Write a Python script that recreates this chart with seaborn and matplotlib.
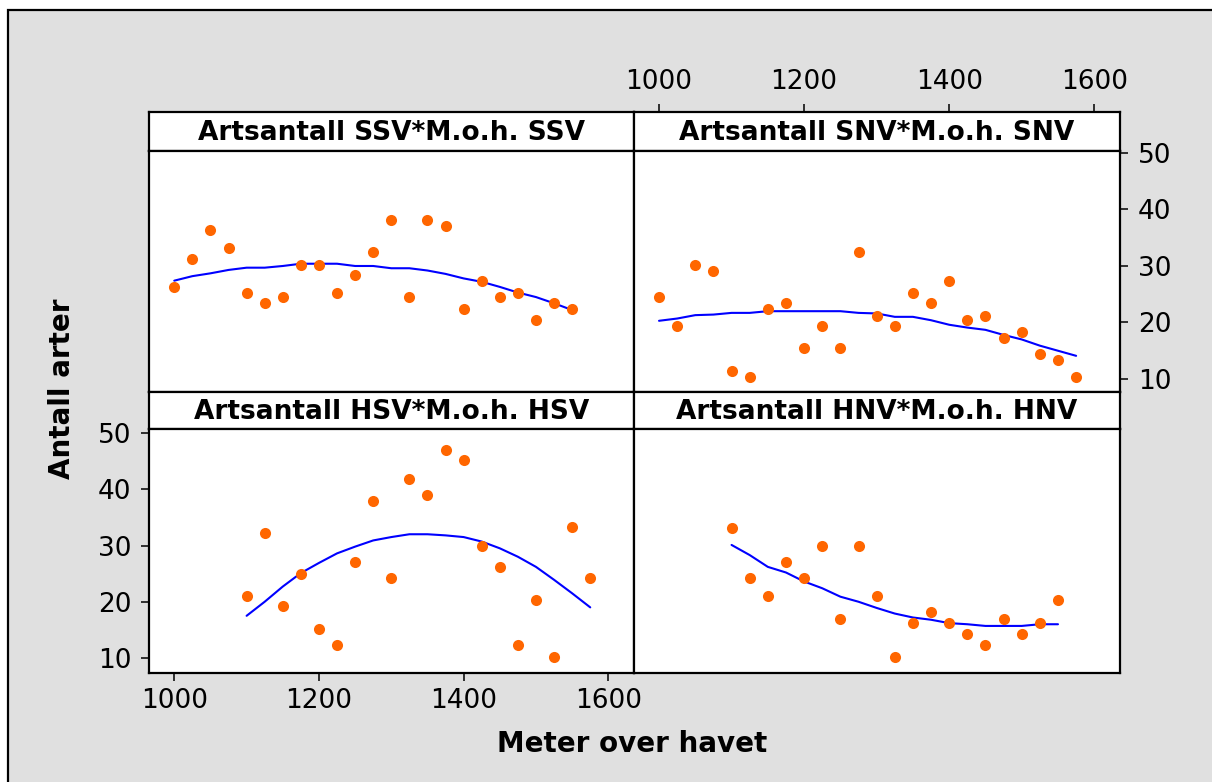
import matplotlib
matplotlib.use("Agg")
import matplotlib.pyplot as plt
import seaborn as sns
import pandas as pd
from matplotlib.patches import Rectangle

sns.set_theme(style="white")
plt.rcParams['font.family'] = ['DejaVu Sans']

# ---------------- data ----------------
titles = ["Artsantall SSV*M.o.h. SSV", "Artsantall SNV*M.o.h. SNV",
          "Artsantall HSV*M.o.h. HSV", "Artsantall HNV*M.o.h. HNV"]

ssv_x = [1000, 1025, 1050, 1075, 1100, 1125, 1150, 1175, 1200, 1225, 1250, 1275,
         1300, 1325, 1350, 1375, 1400, 1425, 1450, 1475, 1500, 1525, 1550]
ssv_y = [26.3, 31.3, 36.3, 33.1, 25.2, 23.4, 24.5, 30.2, 30.2, 25.2, 28.4, 32.4,
         38.1, 24.5, 38.1, 37.0, 22.3, 27.3, 24.5, 25.2, 20.5, 23.4, 22.3]
ssv_fit = [27.4, 28.2, 28.7, 29.3, 29.7, 29.7, 30.0, 30.4, 30.4, 30.4, 30.0, 30.0,
           29.6, 29.6, 29.2, 28.6, 27.8, 27.2, 26.3, 25.3, 24.5, 23.4, 22.2]

snv_x = [1000, 1025, 1050, 1075, 1100, 1125, 1150, 1175, 1200, 1225, 1250, 1275,
         1300, 1325, 1350, 1375, 1400, 1425, 1450, 1475, 1500, 1525, 1550, 1575]
snv_y = [24.5, 19.4, 30.2, 29.1, 11.5, 10.4, 22.3, 23.4, 15.4, 19.4, 15.4, 32.4,
         21.2, 19.4, 25.2, 23.4, 27.3, 20.4, 21.2, 17.3, 18.3, 14.4, 13.3, 10.4]
snv_fit = [20.3, 20.7, 21.3, 21.4, 21.7, 21.7, 22.0, 22.0, 22.0, 22.0, 22.0, 21.7,
           21.6, 21.0, 21.0, 20.4, 19.6, 19.1, 18.7, 17.8, 17.0, 15.9, 15.0, 14.1]

hsv_x = [1100, 1125, 1150, 1175, 1200, 1225, 1250, 1275, 1300, 1325, 1350, 1375,
         1400, 1425, 1450, 1475, 1500, 1525, 1550, 1575]
hsv_y = [21.0, 32.2, 19.2, 25.0, 15.2, 12.3, 27.1, 38.0, 24.3, 41.9, 39.0, 47.0,
         45.2, 30.0, 26.1, 12.3, 20.3, 10.1, 33.3, 24.3]
hsv_fit = [17.5, 20.0, 22.7, 25.1, 26.9, 28.6, 29.8, 30.9, 31.5, 32.0, 32.0, 31.8,
           31.5, 30.7, 29.5, 28.0, 26.2, 23.9, 21.5, 19.0]

hnv_x = [1100, 1125, 1150, 1175, 1200, 1225, 1250, 1275, 1300, 1325, 1350, 1375,
         1400, 1425, 1450, 1475, 1500, 1525, 1550]
hnv_y = [33.2, 24.2, 21.0, 27.1, 24.2, 30.0, 17.0, 30.0, 21.0, 10.1, 16.3, 18.1,
         16.3, 14.2, 12.3, 17.0, 14.2, 16.3, 20.3]
hnv_fit = [30.1, 28.3, 26.2, 25.2, 23.6, 22.4, 20.9, 20.0, 18.9, 17.9, 17.2, 16.8,
           16.2, 16.0, 15.7, 15.7, 15.7, 16.0, 16.0]

x_ticks = [1000, 1200, 1400, 1600]
y_ticks = [10, 20, 30, 40, 50]

frames = []
for t, xs, ys, fs in zip(titles, [ssv_x, snv_x, hsv_x, hnv_x],
                         [ssv_y, snv_y, hsv_y, hnv_y],
                         [ssv_fit, snv_fit, hsv_fit, hnv_fit]):
    frames.append(pd.DataFrame({"panel": t, "x": xs, "y": ys, "fit": fs}))
df = pd.concat(frames, ignore_index=True)

# ---------------- layout ----------------
W, H = 1212, 782
fig = plt.figure(figsize=(W / 100, H / 100), dpi=100)
fig.patch.set_facecolor("white")
fig.add_artist(Rectangle((8 / W, -0.05), 1.2, 1 - 10 / H + 0.05,
                         transform=fig.transFigure, facecolor="#e0e0e0",
                         edgecolor="black", linewidth=1.6, zorder=0))


def ax_px(x0, y0, x1, y1):
    return fig.add_axes([x0 / W, 1 - y1 / H, (x1 - x0) / W, (y1 - y0) / H])


XL = (965.5, 1635.5)
cols = [(149.3, 634.0), (634.0, 1120.0)]
rows = [dict(h=(111.7, 150.5), p=(150.5, 391.7), ylim=(7.75, 50.44)),
        dict(h=(391.7, 429.3), p=(429.3, 672.5), ylim=(7.42, 50.66))]

orange = "#ff6600"
blue = "#0000ff"
tick_fs = 19

for i, title in enumerate(titles):
    r, c = divmod(i, 2)
    x0, x1 = cols[c]
    row = rows[r]
    hax = ax_px(x0, row["h"][0], x1, row["h"][1])
    ax = ax_px(x0, row["p"][0], x1, row["p"][1])
    for a in (hax, ax):
        a.set_facecolor("white")
        a.set_xlim(*XL)
        for s in a.spines.values():
            s.set_color("black")
            s.set_linewidth(1.6)
    hax.set_ylim(0, 1)
    hax.set_yticks([])
    hax.set_xticks([])
    hax.text(0.5, 0.28, title, transform=hax.transAxes, ha="center",
             va="baseline", fontsize=19, fontweight="bold", color="black")

    sub = df[df["panel"] == title]
    sns.lineplot(data=sub, x="x", y="fit", ax=ax, color=blue, linewidth=1.5,
                 estimator=None, sort=True, zorder=2)
    sns.scatterplot(data=sub, x="x", y="y", ax=ax, color=orange, s=64,
                    linewidth=0, zorder=3)
    ax.set_ylim(*row["ylim"])
    ax.set_xlabel("")
    ax.set_ylabel("")
    ax.set_xticks([])
    ax.set_yticks([])

    if i == 1:  # top-right: x ticks on top of header, y ticks on right
        hax.set_xticks(x_ticks)
        hax.xaxis.tick_top()
        hax.tick_params(axis="x", direction="out", length=6, width=1.1,
                        labelsize=tick_fs, pad=6, colors="black")
        ax.set_yticks(y_ticks)
        ax.yaxis.tick_right()
        ax.tick_params(axis="y", direction="out", length=6, width=1.1,
                       labelsize=tick_fs, pad=7, colors="black")
    if i == 2:  # bottom-left: x ticks bottom, y ticks left
        ax.set_xticks(x_ticks)
        ax.set_yticks(y_ticks)
        ax.tick_params(axis="both", direction="out", length=6, width=1.1,
                       labelsize=tick_fs, colors="black")
        ax.tick_params(axis="x", pad=5)
        ax.tick_params(axis="y", pad=7)
        ax.xaxis.tick_bottom()
        ax.yaxis.tick_left()

fig.text(631.7 / W, 1 - 751.7 / H, "Meter over havet", ha="center",
         va="baseline", fontsize=20, fontweight="bold", color="black")
fig.text(70 / W, 1 - 389 / H, "Antall arter", ha="center", va="baseline",
         rotation=90, rotation_mode="anchor", fontsize=20, fontweight="bold",
         color="black")

fig.savefig("out.png", dpi=100, facecolor=fig.get_facecolor())
